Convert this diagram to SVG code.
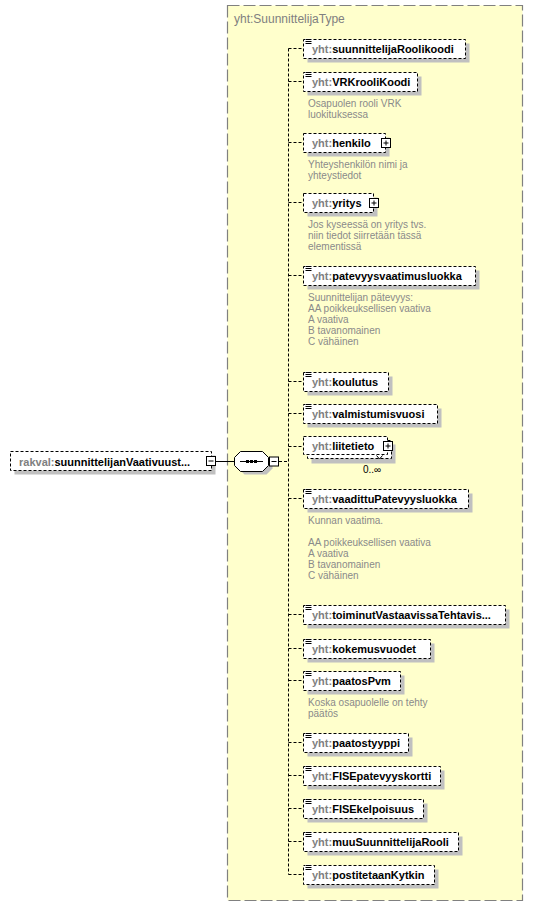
<svg xmlns="http://www.w3.org/2000/svg" width="533" height="906" viewBox="0 0 533 906">
<style>
.bg{fill:#fff}
.type{fill:#FFFFCC;stroke:#808080;stroke-width:1.2;stroke-dasharray:12,4}
.sh{fill:#c0c0c0}
.box{fill:#fff;stroke:#000;stroke-width:1;stroke-dasharray:3,2}
.sq{fill:#fff;stroke:#000;stroke-width:1}
.ln{stroke:#000;stroke-width:1;fill:none}
.conn{stroke:#000;stroke-width:1;fill:none;stroke-dasharray:3,2}
.nm{font-family:"Liberation Sans",Arial,sans-serif;font-weight:bold;font-size:11px;fill:#000}
.pre{fill:#808080}
.ann{font-family:"Liberation Sans",Arial,sans-serif;font-size:10px;fill:#8a8a8a}
.ttl{font-family:"Liberation Sans",Arial,sans-serif;font-size:12px;fill:#808080}
.occ{font-family:"Liberation Sans",Arial,sans-serif;font-size:10px;fill:#000}
</style>
<defs>
<g id="ico"><rect x="0" y="-0.5" width="7" height="6" fill="#fff"/><path d="M0.5,0.5h6M0.5,2.5h6M0.5,4.5h6" class="ln"/></g>
</defs>
<rect width="533" height="906" class="bg"/>

<g id="type-SuunnittelijaType">
<rect x="227.5" y="5.5" width="295" height="895" class="type"/>
<text x="234" y="23" class="ttl">yht:SuunnittelijaType</text>
</g>

<g id="connectors">
<line x1="216" y1="461.5" x2="234.5" y2="461.5" class="ln"/>
<line x1="279" y1="461.5" x2="288.5" y2="461.5" class="conn"/>
<line x1="288.5" y1="48.5" x2="288.5" y2="874.5" class="conn"/>
<path class="conn" d="M288.5,48.5H303M288.5,81.5H303M288.5,142.5H303M288.5,202.5H303M288.5,275.5H303M288.5,381.5H303M288.5,413.5H303M288.5,446.5H303M288.5,498.5H303M288.5,614.5H303M288.5,648.5H303M288.5,680.5H303M288.5,742.5H303M288.5,775.5H303M288.5,808.5H303M288.5,841.5H303M288.5,874.5H303"/>
</g>

<g id="n-rakval">
<rect x="14.5" y="455.5" width="201" height="19" class="sh"/>
<rect x="10.5" y="451.5" width="201" height="19" class="box"/>
<text x="19" y="465.5" class="nm"><tspan class="pre">rakval:</tspan>suunnittelijanVaativuust...</text>
<rect x="206.5" y="456.5" width="9" height="9" class="sq"/>
<line x1="208.5" y1="461" x2="213.5" y2="461" class="ln"/>
</g>

<g id="n-sequence">
<polygon points="244.5,455.5 266.5,455.5 272.5,461.5 272.5,468.5 266.5,474.5 244.5,474.5 238.5,468.5 238.5,461.5" class="sh"/>
<polygon points="240.5,451.5 262.5,451.5 268.5,457.5 268.5,465.5 262.5,471.5 240.5,471.5 234.5,465.5 234.5,457.5" class="sq"/>
<line x1="240" y1="461.5" x2="263" y2="461.5" class="ln"/>
<rect x="246" y="460" width="3" height="3"/>
<rect x="250" y="460" width="3" height="3"/>
<rect x="254" y="460" width="3" height="3"/>
<rect x="269.5" y="457" width="9" height="9" class="sq"/>
<line x1="271.5" y1="461.5" x2="276.5" y2="461.5" class="ln"/>
</g>

<g id="n-suunnittelijaRoolikoodi">
<rect x="307.5" y="43.5" width="162" height="19" class="sh"/>
<rect x="303.5" y="39.5" width="162" height="19" class="box"/>
<use href="#ico" x="305" y="39"/>
<text x="312" y="53" class="nm"><tspan class="pre">yht:</tspan>suunnittelijaRoolikoodi</text>
</g>

<g id="n-VRKrooliKoodi">
<rect x="307.5" y="76.5" width="114" height="19" class="sh"/>
<rect x="303.5" y="72.5" width="114" height="19" class="box"/>
<use href="#ico" x="305" y="72"/>
<text x="312" y="86" class="nm"><tspan class="pre">yht:</tspan>VRKrooliKoodi</text>
<text x="308" y="107" class="ann">Osapuolen rooli VRK</text>
<text x="308" y="118" class="ann">luokituksessa</text>
</g>

<g id="n-henkilo">
<rect x="307.5" y="137.5" width="82" height="19" class="sh"/>
<rect x="303.5" y="133.5" width="82" height="19" class="box"/>
<text x="312" y="147" class="nm"><tspan class="pre">yht:</tspan>henkilo</text>
<rect x="381.5" y="138.5" width="9" height="9" class="sq"/>
<path d="M383.5,143h5M386,140.5v5" class="ln"/>
<text x="308" y="168" class="ann">Yhteyshenkilön nimi ja</text>
<text x="308" y="179" class="ann">yhteystiedot</text>
</g>

<g id="n-yritys">
<rect x="307.5" y="197.5" width="70" height="19" class="sh"/>
<rect x="303.5" y="193.5" width="70" height="19" class="box"/>
<text x="312" y="207" class="nm"><tspan class="pre">yht:</tspan>yritys</text>
<rect x="369.5" y="198.5" width="9" height="9" class="sq"/>
<path d="M371.5,203h5M374,200.5v5" class="ln"/>
<text x="308" y="228" class="ann">Jos kyseessä on yritys tvs.</text>
<text x="308" y="239" class="ann">niin tiedot siirretään tässä</text>
<text x="308" y="250" class="ann">elementissä</text>
</g>

<g id="n-patevyysvaatimusluokka">
<rect x="307.5" y="270.5" width="172" height="19" class="sh"/>
<rect x="303.5" y="266.5" width="172" height="19" class="box"/>
<use href="#ico" x="305" y="266"/>
<text x="312" y="280" class="nm"><tspan class="pre">yht:</tspan>patevyysvaatimusluokka</text>
<text x="308" y="301" class="ann">Suunnittelijan pätevyys:</text>
<text x="308" y="312" class="ann">AA poikkeuksellisen vaativa</text>
<text x="308" y="323" class="ann">A vaativa</text>
<text x="308" y="334" class="ann">B tavanomainen</text>
<text x="308" y="345" class="ann">C vähäinen</text>
</g>

<g id="n-koulutus">
<rect x="307.5" y="376.5" width="85" height="19" class="sh"/>
<rect x="303.5" y="372.5" width="85" height="19" class="box"/>
<use href="#ico" x="305" y="372"/>
<text x="312" y="386" class="nm"><tspan class="pre">yht:</tspan>koulutus</text>
</g>

<g id="n-valmistumisvuosi">
<rect x="307.5" y="408.5" width="134" height="19" class="sh"/>
<rect x="303.5" y="404.5" width="134" height="19" class="box"/>
<use href="#ico" x="305" y="404"/>
<text x="312" y="418" class="nm"><tspan class="pre">yht:</tspan>valmistumisvuosi</text>
</g>

<g id="n-liitetieto">
<rect x="311.5" y="444.5" width="84" height="19" class="sh"/>
<rect x="307.5" y="440.5" width="84" height="18" class="box"/>
<rect x="303.5" y="436.5" width="84" height="18" class="box"/>
<path d="M376.5,455.5l3,3.5l3,-3.5" class="ln"/>
<text x="312" y="450" class="nm"><tspan class="pre">yht:</tspan>liitetieto</text>
<rect x="383.5" y="441.5" width="9" height="9" class="sq"/>
<path d="M385.5,446h5M388,443.5v5" class="ln"/>
<text x="363" y="473" class="occ">0..∞</text>
</g>

<g id="n-vaadittuPatevyysluokka">
<rect x="307.5" y="493.5" width="165" height="19" class="sh"/>
<rect x="303.5" y="489.5" width="165" height="19" class="box"/>
<use href="#ico" x="305" y="489"/>
<text x="312" y="503" class="nm"><tspan class="pre">yht:</tspan>vaadittuPatevyysluokka</text>
<text x="308" y="524" class="ann">Kunnan vaatima.</text>
<text x="308" y="546" class="ann">AA poikkeuksellisen vaativa</text>
<text x="308" y="557" class="ann">A vaativa</text>
<text x="308" y="568" class="ann">B tavanomainen</text>
<text x="308" y="579" class="ann">C vähäinen</text>
</g>

<g id="n-toiminutVastaavissaTehtavis">
<rect x="307.5" y="609.5" width="202" height="19" class="sh"/>
<rect x="303.5" y="605.5" width="202" height="19" class="box"/>
<use href="#ico" x="305" y="605"/>
<text x="312" y="619" class="nm"><tspan class="pre">yht:</tspan>toiminutVastaavissaTehtavis...</text>
</g>

<g id="n-kokemusvuodet">
<rect x="307.5" y="643.5" width="127" height="19" class="sh"/>
<rect x="303.5" y="639.5" width="127" height="19" class="box"/>
<use href="#ico" x="305" y="639"/>
<text x="312" y="653" class="nm"><tspan class="pre">yht:</tspan>kokemusvuodet</text>
</g>

<g id="n-paatosPvm">
<rect x="307.5" y="675.5" width="97" height="19" class="sh"/>
<rect x="303.5" y="671.5" width="97" height="19" class="box"/>
<use href="#ico" x="305" y="671"/>
<text x="312" y="685" class="nm"><tspan class="pre">yht:</tspan>paatosPvm</text>
<text x="308" y="706" class="ann">Koska osapuolelle on tehty</text>
<text x="308" y="717" class="ann">päätös</text>
</g>

<g id="n-paatostyyppi">
<rect x="307.5" y="737.5" width="105" height="19" class="sh"/>
<rect x="303.5" y="733.5" width="105" height="19" class="box"/>
<use href="#ico" x="305" y="733"/>
<text x="312" y="747" class="nm"><tspan class="pre">yht:</tspan>paatostyyppi</text>
</g>

<g id="n-FISEpatevyyskortti">
<rect x="307.5" y="770.5" width="137" height="19" class="sh"/>
<rect x="303.5" y="766.5" width="137" height="19" class="box"/>
<use href="#ico" x="305" y="766"/>
<text x="312" y="780" class="nm"><tspan class="pre">yht:</tspan>FISEpatevyyskortti</text>
</g>

<g id="n-FISEkelpoisuus">
<rect x="307.5" y="803.5" width="120" height="19" class="sh"/>
<rect x="303.5" y="799.5" width="120" height="19" class="box"/>
<use href="#ico" x="305" y="799"/>
<text x="312" y="813" class="nm"><tspan class="pre">yht:</tspan>FISEkelpoisuus</text>
</g>

<g id="n-muuSuunnittelijaRooli">
<rect x="307.5" y="836.5" width="155" height="19" class="sh"/>
<rect x="303.5" y="832.5" width="155" height="19" class="box"/>
<use href="#ico" x="305" y="832"/>
<text x="312" y="846" class="nm"><tspan class="pre">yht:</tspan>muuSuunnittelijaRooli</text>
</g>

<g id="n-postitetaanKytkin">
<rect x="307.5" y="869.5" width="131" height="19" class="sh"/>
<rect x="303.5" y="865.5" width="131" height="19" class="box"/>
<use href="#ico" x="305" y="865"/>
<text x="312" y="879" class="nm"><tspan class="pre">yht:</tspan>postitetaanKytkin</text>
</g>
</svg>
